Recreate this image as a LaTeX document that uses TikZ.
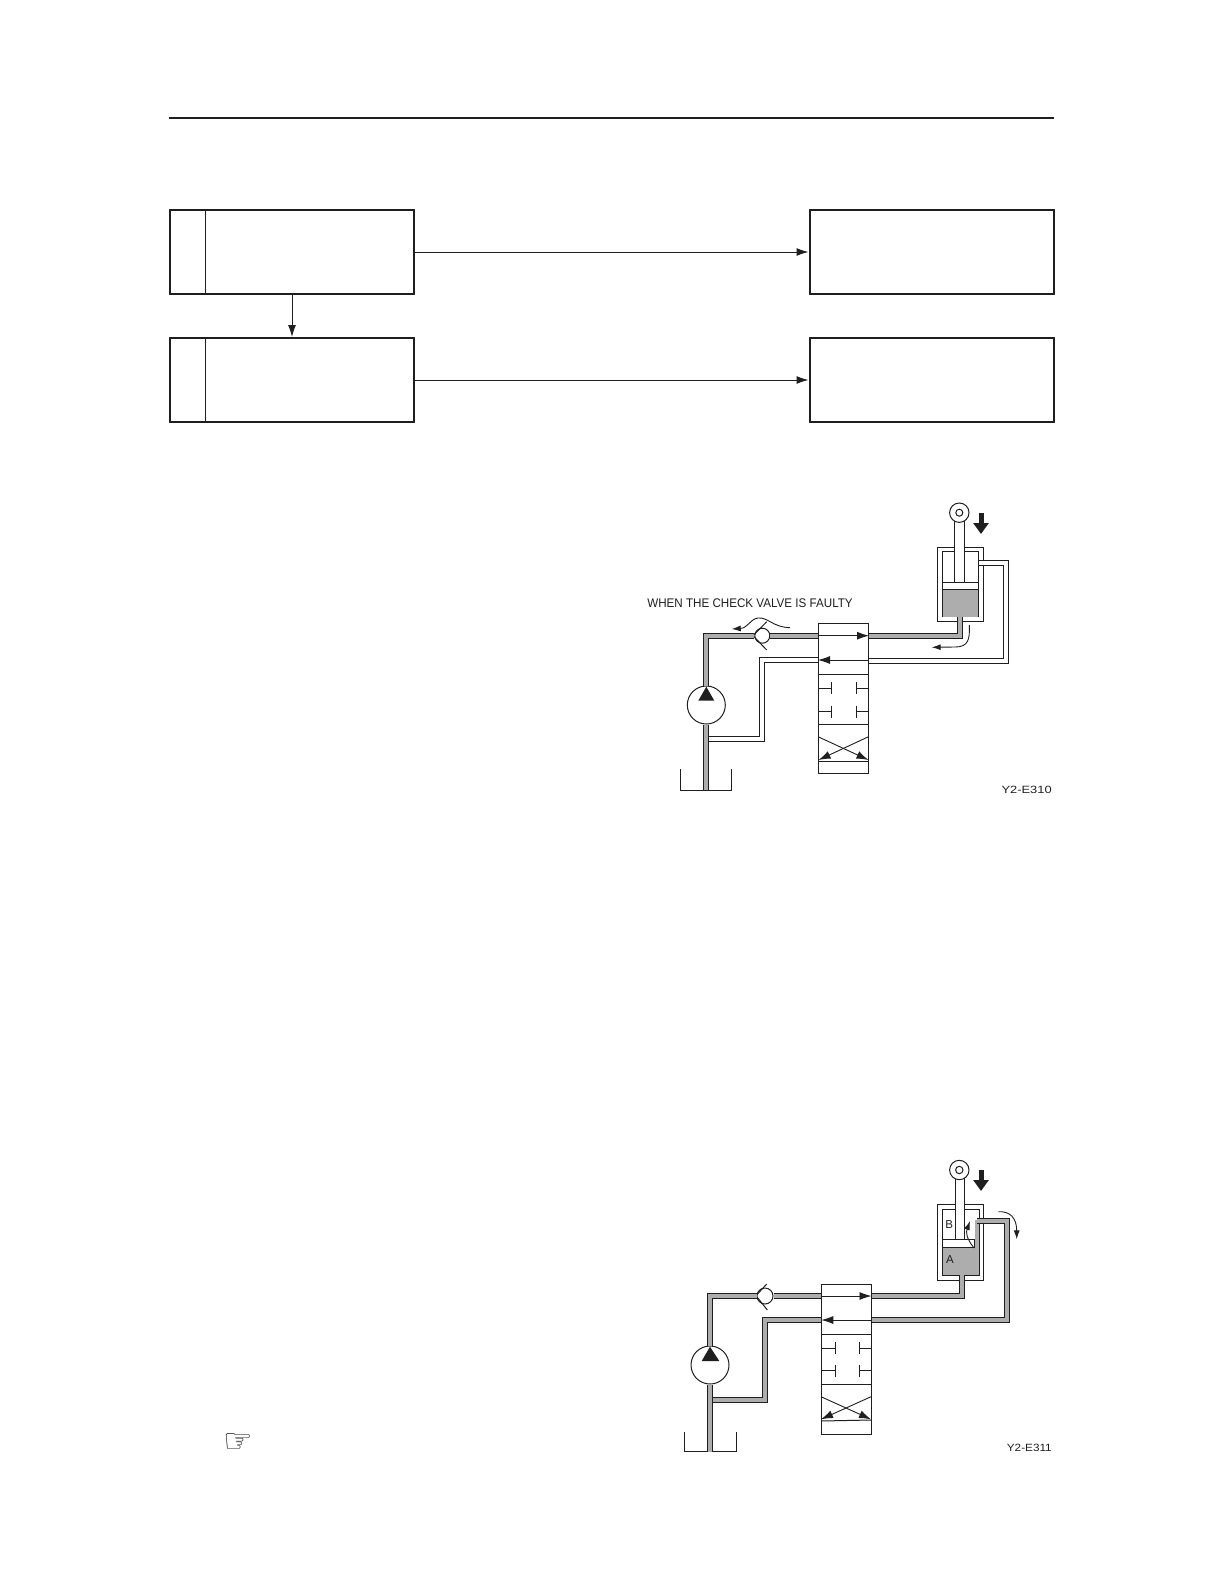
\documentclass[tikz,border=0pt]{standalone}
\usepackage{fontspec}
\setsansfont{Liberation Sans}
\newfontfamily\handfont{DejaVu Sans}
\usetikzlibrary{arrows.meta}
\definecolor{inkblack}{gray}{0.12}
\definecolor{oilgray}{gray}{0.68}
\tikzset{
    flowbox/.style={draw=inkblack, line width=2pt, inner sep=0pt, minimum width=244pt, minimum height=84pt},
    numbox/.style={draw=inkblack, line width=1pt, inner sep=0pt, minimum width=35pt, minimum height=84pt},
    flowline/.style={draw=inkblack, line width=1pt, -{Latex[length=12pt,width=8pt]}},
    cellarrow/.style={draw=inkblack, line width=0.9pt, -{Latex[length=12pt,width=8pt]}},
    pipe/.style={draw=inkblack, line width=1pt, double=oilgray, double distance=3.8pt},
    emptypipe/.style={draw=inkblack, line width=1pt, double=white, double distance=3.8pt},
    cell/.style={draw=inkblack, line width=1pt, inner sep=0pt, minimum width=50pt, fill=white},
    round part/.style={circle, draw=inkblack, line width=1pt, inner sep=0pt, fill=white},
    wall/.style={draw=inkblack, line width=1pt},
    flowtip/.style={draw=inkblack, line width=0.9pt, -{Latex[length=9pt,width=6pt]}},
    loadtip/.style={draw=inkblack, line width=5pt, -{Triangle[length=11pt,width=15pt]}},
    caption/.style={font=\sffamily, text=inkblack, inner sep=0pt}
}
\begin{document}
\begin{tikzpicture}[x=1pt, y=-1pt]
    \useasboundingbox (0,0) rectangle (1224,1584);
    \draw[inkblack, line width=2pt] (169,118) -- (1054,118);

    \node[flowbox] (A1) at (292,252) {};
    \node[numbox] (N1) at (187.5,252) {};
    \node[flowbox] (A2) at (292,380) {};
    \node[numbox] (N2) at (187.5,380) {};
    \node[flowbox] (R1) at (931.5,252) {};
    \node[flowbox] (R2) at (931.5,380) {};
    \draw[flowline] (A1) -- (R1);
    \draw[flowline] (A2) -- (R2);
    \draw[flowline] (A1) -- (A2);

    \node[caption, font=\sffamily\fontsize{12.5}{14}\selectfont, xscale=0.93] (T1) at (750,603) {WHEN THE CHECK VALVE IS FAULTY};
    \node[cell, minimum height=50.7pt] (V1a) at (843.5,648.7) {};
    \node[cell, minimum height=50.3pt] (V1b) at (843.5,699.2) {};
    \node[cell, minimum height=49pt] (V1c) at (843.5,748.8) {};
    \node[round part, minimum size=38pt] (P1) at (706.3,705) {};
    \node[round part, minimum size=15pt] (K1) at (762.3,635.7) {};
    \node[wall, minimum width=45.6pt, minimum height=74.4pt, inner sep=0pt] (Z1) at (960.5,584.5) {};
    \node[wall, minimum width=36.4pt, minimum height=65.4pt, inner sep=0pt] (Y1) at (960.5,584) {};
    \coordinate (J1) at (706.3,738.7);
    \coordinate (L1) at (762,660);
    \coordinate (Q1) at (1006.3,661);
    \coordinate (D1) at (706.3,790);
    \fill[oilgray] (942.6,589) rectangle (978.4,616.5);
    \draw[wall, fill=white] (942.6,582.3) rectangle (978.4,589);
    \draw[wall, fill=white] (954.7,520) rectangle (964,582.3);
    \node[round part, minimum size=19.4pt] (E1) at (959.3,512.7) {};
    \node[round part, minimum size=7pt] (Ei1) at (959.3,512.7) {};
    \draw[loadtip] (981,513) -- (981,534);
    \draw[wall] (680,769.3) |- (731,790) -- (731,769.3);
    \draw[emptypipe] (J1) -| (L1) -- (L1 -| V1a.west);
    \draw[emptypipe] (V1a.east |- Q1) -- (Q1) |- (979,563.3);
    \draw[pipe] (P1.north) |- (K1.west);
    \draw[pipe] (K1.east) -- (K1 -| V1a.west);
    \draw[pipe] (K1 -| V1a.east) -| (960,617);
    \draw[pipe] (P1.south) -- (D1);
    \fill[inkblack] (706.3,686.7) -- (714.3,700.7) -- (698.3,700.7) -- cycle;
    \draw[wall] (754,634.7) -- (766.7,621.7);
    \draw[wall] (754,636.7) -- (766.7,650);
    \draw[flowtip] (790,627.7) .. controls (772,627) and (768,617) .. (758,618) .. controls (750,619) and (748,628) .. (731.7,629);
    \draw[flowtip] (969.3,625) .. controls (970,640) and (968,647) .. (955,647) -- (931.7,647.3);
    \draw[cellarrow] (869,660) -- (818,660);
    \draw[cellarrow] (V1a.west |- K1) -- (V1a.east |- K1);
    \draw[wall] (818,688.3) -- (831,688.3) (831,682.3) -- (831,694.3);
    \draw[wall] (869,688.3) -- (856.7,688.3) (856.7,682.3) -- (856.7,694.3);
    \draw[wall] (818,711.7) -- (831,711.7) (831,705.7) -- (831,717.7);
    \draw[wall] (869,711.7) -- (856.7,711.7) (856.7,705.7) -- (856.7,717.7);
    \draw[cellarrow] (818,736.7) -- (868.5,760);
    \draw[cellarrow] (868.5,736.7) -- (818.5,760);
    \draw[wall] (818.5,761.7) -- (868.5,761.7);
    \node[caption, font=\sffamily\fontsize{10.5}{12}\selectfont, xscale=1.23, anchor=east] (C1) at (1052,790) {Y2-E310};

    \node[cell, minimum height=50pt] (V2a) at (846,1309.2) {};
    \node[cell, minimum height=50.3pt] (V2b) at (846,1359.2) {};
    \node[cell, minimum height=49.7pt] (V2c) at (846,1409.2) {};
    \node[round part, minimum size=38pt] (P2) at (710,1365) {};
    \node[round part, minimum size=16pt] (K2) at (765,1296) {};
    \node[wall, minimum width=45.6pt, minimum height=75.7pt, inner sep=0pt] (Z2) at (960.5,1242.2) {};
    \node[wall, minimum width=36.4pt, minimum height=66pt, inner sep=0pt] (Y2) at (960.8,1242) {};
    \coordinate (J2) at (710,1400);
    \coordinate (L2) at (765.3,1320);
    \coordinate (Q2) at (1006.7,1320);
    \coordinate (D2) at (710,1451.7);
    \fill[oilgray] (942.8,1247.7) rectangle (978.8,1274.8);
    \fill[oilgray] (975,1220) rectangle (978.8,1247.7);
    \draw[wall, fill=white] (942.8,1239.3) rectangle (974,1247.7);
    \draw[wall, fill=white] (955,1178) rectangle (964,1239.3);
    \node[round part, minimum size=19.4pt] (E2) at (959.3,1170) {};
    \node[round part, minimum size=7.4pt] (Ei2) at (959.3,1170) {};
    \draw[loadtip] (981,1170) -- (981,1191);
    \draw[wall] (684,1432.3) |- (736,1451.7) -- (736,1432.3);
    \node[caption, font=\sffamily\fontsize{11.5}{13}\selectfont] (B2) at (949.3,1224.3) {B};
    \node[caption, font=\sffamily\fontsize{11.5}{13}\selectfont] (A3) at (950,1260) {A};
    \draw[pipe] (J2) -| (L2) -- (L2 -| V2a.west);
    \draw[pipe] (V2a.east |- Q2) -- (Q2) |- (977,1221);
    \draw[pipe] (P2.north) |- (K2.west);
    \draw[pipe] (K2.east) -- (K2 -| V2a.west);
    \draw[pipe] (V2a.east |- K2) -| (961.7,1275);
    \draw[pipe] (P2.south) -- (D2);
    \fill[inkblack] (710,1346.7) -- (719.3,1361) -- (701.7,1361) -- cycle;
    \draw[wall] (757.3,1294.3) -- (766.7,1284);
    \draw[wall] (757.3,1297.3) -- (767.3,1310);
    \draw[flowtip] (974,1248) .. controls (966,1238) and (966,1232) .. (970,1221);
    \draw[flowtip] (998.3,1211.7) .. controls (1010,1211) and (1016.7,1218) .. (1016.7,1239.3);
    \draw[cellarrow] (871,1320) -- (821.3,1320);
    \draw[cellarrow] (V2a.west |- K2) -- (V2a.east |- K2);
    \draw[wall] (821,1348.3) -- (835,1348.3) (835,1342.3) -- (835,1354.3);
    \draw[wall] (871,1348.3) -- (859,1348.3) (859,1342.3) -- (859,1354.3);
    \draw[wall] (821,1370.7) -- (835,1370.7) (835,1364.7) -- (835,1376.7);
    \draw[wall] (871,1370.7) -- (859,1370.7) (859,1364.7) -- (859,1376.7);
    \draw[cellarrow] (821,1396.7) -- (871,1419.3);
    \draw[cellarrow] (871,1396.7) -- (821,1419.3);
    \draw[wall] (821,1421) -- (871,1420);
    \node[caption, font=\sffamily\fontsize{10.5}{12}\selectfont, xscale=1.12, anchor=east] (C2) at (1052,1448.3) {Y2-E311};

    \node[inner sep=0pt, text=inkblack, font=\handfont\fontsize{33}{35}\selectfont] (H1) at (238,1443) {☞};
\end{tikzpicture}
\end{document}
